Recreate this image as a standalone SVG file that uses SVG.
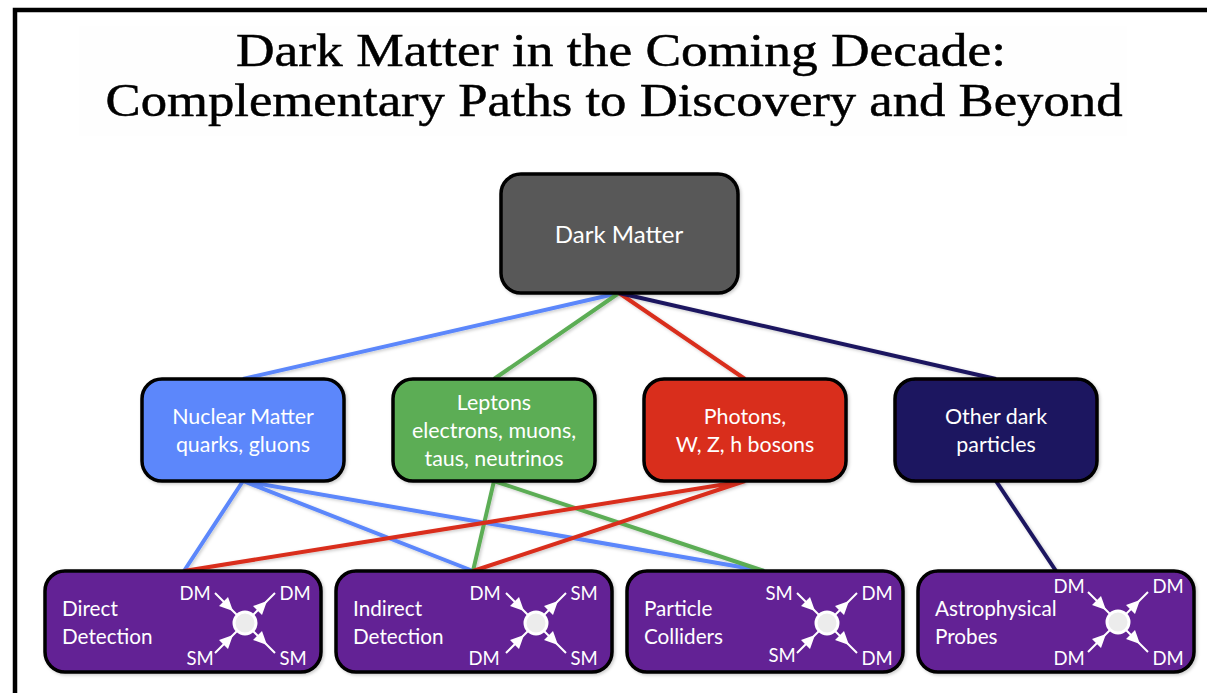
<svg xmlns="http://www.w3.org/2000/svg" xmlns:xlink="http://www.w3.org/1999/xlink" width="1207" height="693" viewBox="0 0 1207 693">
<style>
.box{stroke:#000;stroke-width:3.500}
.lbl{font-family:Lato,"Open Sans",sans-serif;font-size:21.400px;fill:#fff;text-anchor:middle}
.bot{font-size:20.700px;text-anchor:start}
.sm{font-size:18.500px}
.ttl{font-family:"Liberation Serif",serif;font-size:46px;fill:#000;text-anchor:middle;stroke:#000;stroke-width:.5}
.c{fill:none;stroke-width:4}
.b{stroke:#5b87fb}.g{stroke:#5cad55}.r{stroke:#d92e1e}.n{stroke:#1c1760}
</style>
<defs>
<filter id="s" x="-10%" y="-10%" width="120%" height="125%"><feDropShadow dx="1.500" dy="1.500" stdDeviation="1.500" flood-color="#000" flood-opacity=".2"/></filter>
<g id="fx">
<path d="M-30-30L30 30M30-30L-30 30" stroke="#fff" stroke-width="2" fill="none"/>
<path d="M-12-12L-17-26L-26-17Z M22-22L8-17L17-8Z M-12 12L-26 17L-17 26Z M22 22L17 8L8 17Z" fill="#fff"/>
<circle r="11" fill="#ececec" stroke="#fff" stroke-width="3"/>
</g>
</defs>
<rect width="1207" height="693" fill="#fff"/>
<rect x="79" y="26" width="1048" height="110" fill="#fefefe"/>
<path d="M15 693V10H1207" fill="none" stroke="#000" stroke-width="4.500"/>
<text class="ttl" x="621" y="66" textLength="770" lengthAdjust="spacingAndGlyphs">Dark Matter in the Coming Decade:</text>
<text class="ttl" x="614" y="116" textLength="1017" lengthAdjust="spacingAndGlyphs">Complementary Paths to Discovery and Beyond</text>
<g id="connectors" filter="url(#s)">
<path class="c b" d="M619 293L243 379M243 481L184 571M243 481L473 571M243 481L764 571"/>
<path class="c g" d="M619 293L494 379M494 481L473 571M494 481L764 571"/>
<path class="c r" d="M619 293L745 379M745 481L184 571M745 481L473 571"/>
<path class="c n" d="M619 293L996 379M996 481L1056 571"/>
</g>
<g id="dark-matter"><rect class="box" x="501" y="174" width="237" height="119" rx="20" fill="#595959" filter="url(#s)"/><text class="lbl" x="619" y="243" style="font-size:24px">Dark Matter</text></g>
<g id="nuclear"><rect class="box" x="142" y="379" width="202" height="102" rx="20" fill="#5b87fb" filter="url(#s)"/><text class="lbl" x="243" y="424">Nuclear Matter</text><text class="lbl" x="243" y="452">quarks, gluons</text></g>
<g id="leptons"><rect class="box" x="393" y="379" width="202" height="102" rx="20" fill="#5cad55" filter="url(#s)"/><text class="lbl" x="494" y="410">Leptons</text><text class="lbl" x="494" y="438">electrons, muons,</text><text class="lbl" x="494" y="466">taus, neutrinos</text></g>
<g id="photons"><rect class="box" x="644" y="379" width="202" height="102" rx="20" fill="#d92e1e" filter="url(#s)"/><text class="lbl" x="745" y="424">Photons,</text><text class="lbl" x="745" y="452">W, Z, h bosons</text></g>
<g id="other"><rect class="box" x="895" y="379" width="202" height="102" rx="20" fill="#1c1760" filter="url(#s)"/><text class="lbl" x="996" y="424">Other dark</text><text class="lbl" x="996" y="452">particles</text></g>
<g id="direct"><rect class="box" x="45" y="571" width="276" height="101" rx="20" fill="#642095" filter="url(#s)"/><text class="lbl bot" x="62" y="616">Direct</text><text class="lbl bot" x="62" y="644">Detection</text><use xlink:href="#fx" href="#fx" x="245" y="623"/><text class="lbl sm" x="195" y="600">DM</text><text class="lbl sm" x="295" y="600">DM</text><text class="lbl sm" x="200" y="665">SM</text><text class="lbl sm" x="293" y="665">SM</text></g>
<g id="indirect"><rect class="box" x="336" y="571" width="276" height="101" rx="20" fill="#642095" filter="url(#s)"/><text class="lbl bot" x="353" y="616">Indirect</text><text class="lbl bot" x="353" y="644">Detection</text><use xlink:href="#fx" href="#fx" x="536" y="623"/><text class="lbl sm" x="485" y="600">DM</text><text class="lbl sm" x="584" y="600">SM</text><text class="lbl sm" x="484" y="665">DM</text><text class="lbl sm" x="584" y="665">SM</text></g>
<g id="colliders"><rect class="box" x="627" y="571" width="276" height="101" rx="20" fill="#642095" filter="url(#s)"/><text class="lbl bot" x="644" y="616">Particle</text><text class="lbl bot" x="644" y="644">Colliders</text><use xlink:href="#fx" href="#fx" x="827" y="623"/><text class="lbl sm" x="779" y="600">SM</text><text class="lbl sm" x="877" y="600">DM</text><text class="lbl sm" x="782" y="662">SM</text><text class="lbl sm" x="877" y="665">DM</text></g>
<g id="astro"><rect class="box" x="918" y="571" width="276" height="101" rx="20" fill="#642095" filter="url(#s)"/><text class="lbl bot" x="935" y="616">Astrophysical</text><text class="lbl bot" x="935" y="644">Probes</text><use xlink:href="#fx" href="#fx" x="1118" y="622"/><text class="lbl sm" x="1069" y="593">DM</text><text class="lbl sm" x="1168" y="593">DM</text><text class="lbl sm" x="1069" y="665">DM</text><text class="lbl sm" x="1168" y="665">DM</text></g>
</svg>
